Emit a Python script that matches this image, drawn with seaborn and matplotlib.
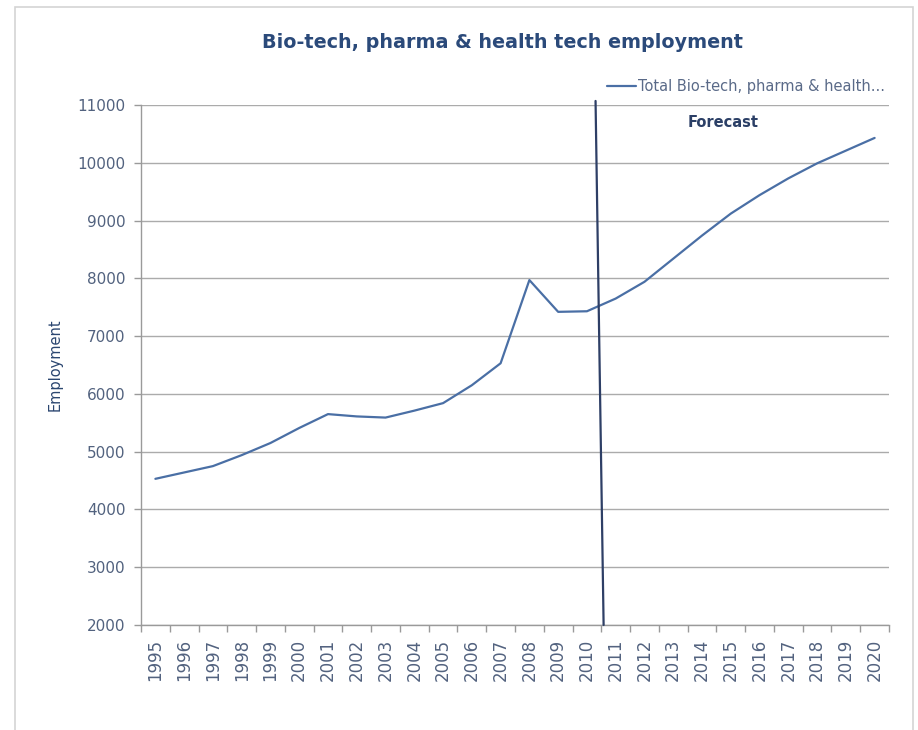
import matplotlib
matplotlib.use("Agg")
import matplotlib.pyplot as plt
import seaborn as sns
import pandas as pd
import numpy as np
from matplotlib.patches import Rectangle

# ---- data ----
years = [str(y) for y in range(1995, 2021)]
employment = [4530, 4640, 4750, 4940, 5150, 5410, 5650, 5610, 5590, 5710,
              5840, 6150, 6530, 7970, 7420, 7430, 7650, 7940, 8340, 8740,
              9120, 9440, 9730, 9990, 10210, 10430]
series_name = "Total Bio-tech, pharma & health..."
title = "Bio-tech, pharma & health tech employment"
y_label = "Employment"
y_ticks = list(range(2000, 12000, 1000))
forecast_label = "Forecast"
# forecast divider (a hand-drawn shape in the original), category index / value
divider_x = [15.30, 15.58]
divider_y = [11070, 2000]

df = pd.DataFrame({"idx": np.arange(len(years)), "year": years, "emp": employment})

sns.set_theme(style="white")
plt.rcParams["font.family"] = ["DejaVu Sans"]

W, H = 918, 730
fig = plt.figure(figsize=(W / 100, H / 100), dpi=100)
fig.patch.set_facecolor("white")

# chart area border
fig.patches.append(Rectangle((15 / W, -0.05), (913 - 15) / W, 1.05 - 7 / H,
                             transform=fig.transFigure, fill=False,
                             edgecolor="#d4d4d4", linewidth=1.2))

ax = fig.add_axes([141 / W, 1 - 625 / H, (889 - 141) / W, (625 - 105) / H])

line_color = "#4A6FA5"
sns.lineplot(data=df, x="idx", y="emp", ax=ax, color=line_color, linewidth=1.6,
             label=series_name, legend=False, zorder=3)

ax.set_xlim(-0.5, len(years) - 0.5)
ax.set_ylim(y_ticks[0], y_ticks[-1])
ax.set_yticks(y_ticks)
ax.set_yticklabels([str(v) for v in y_ticks])
ax.set_xticks(np.arange(len(years)))
ax.set_xticklabels(years, rotation=90)
ax.set_xticks(np.arange(len(years) + 1) - 0.5, minor=True)

tick_color = "#52627F"
ax.tick_params(axis="x", which="major", length=0, pad=10, labelsize=12,
               labelcolor=tick_color)
ax.tick_params(axis="x", which="minor", length=5, width=1, color="#9a9a9a",
               direction="out", bottom=True)
ax.tick_params(axis="y", which="major", length=5, width=1, color="#9a9a9a",
               direction="out", left=True, pad=6, labelsize=11,
               labelcolor=tick_color)

ax.grid(axis="y", color="#ababab", linewidth=1.0)
ax.grid(axis="x", visible=False)
for side in ["top", "right"]:
    ax.spines[side].set_visible(False)
for side in ["left", "bottom"]:
    ax.spines[side].set_color("#9a9a9a")
    ax.spines[side].set_linewidth(1.0)

ax.set_xlabel("")
ax.set_ylabel(y_label, color="#2B4670", fontsize=10.5, labelpad=6)
ax.yaxis.set_label_coords(-(141 - 63) / (889 - 141), 0.5)

# forecast divider
ax.plot(divider_x, divider_y, color="#2E3F66", linewidth=1.6, clip_on=False,
        zorder=4)
ax.text(19.75, 10700, forecast_label, ha="center", va="center",
        fontsize=10.5, fontweight="bold", color="#2B3F66")

# title
fig.text(503 / W, 1 - 42 / H, title, ha="center", va="center",
         fontsize=13.8, fontweight="bold", color="#2B4A7A")

# legend
leg = ax.legend(loc="lower right", bbox_to_anchor=(1.0, 1.0 + 7 / 520),
                frameon=False, fontsize=10.5, handlelength=2.0,
                handletextpad=0.1, borderaxespad=0.2, borderpad=0.1)
for t in leg.get_texts():
    t.set_color("#5A6A88")

fig.savefig("out.png", dpi=100)
